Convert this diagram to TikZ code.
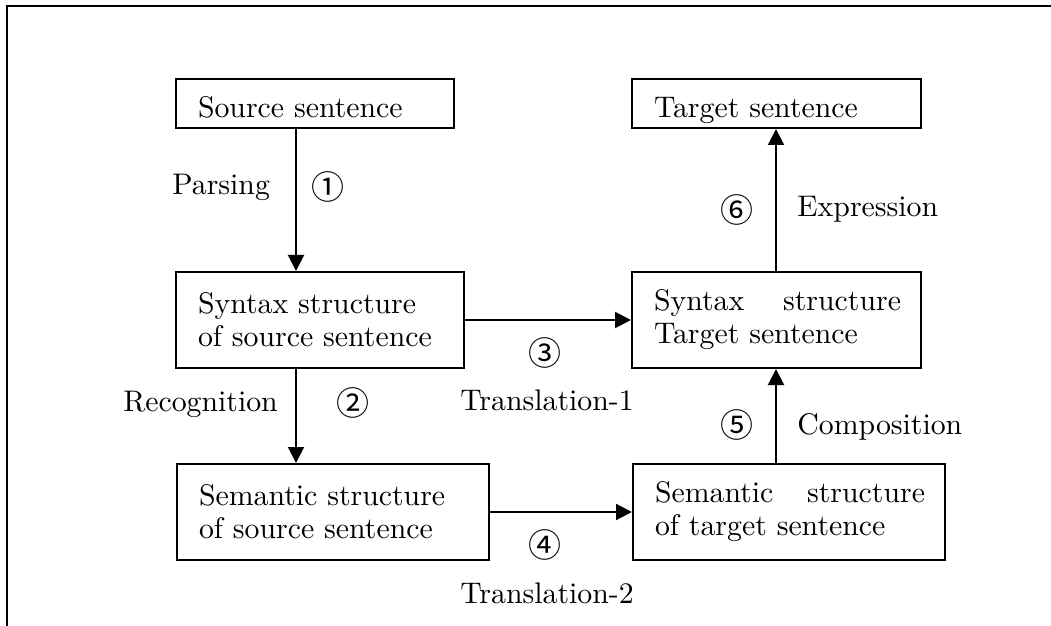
\documentclass[tikz,border=0pt]{standalone}
\usepackage{fontspec}
% one optical size throughout, so the text keeps its width at large sizes
\setmainfont{lmroman10-regular.otf}
\newfontfamily\circfont{Noto Sans CJK JP}
\usetikzlibrary{arrows.meta}

\begin{document}
\begin{tikzpicture}[x=0.5pt,y=-0.5pt,
  every node/.style={font=\fontsize{14.9}{16.5}\selectfont},
  box/.style={draw,line width=1pt,rectangle,inner sep=0pt,inner xsep=11pt,
    anchor=north west,align=left,text width=#1},
  onebox/.style={box=#1,minimum height=24.5pt,text height=19.5pt,text depth=5pt},
  twobox/.style={box=#1,minimum height=48pt},
  arr/.style={line width=1pt,-{Triangle[length=8pt,width=8pt]}},
  num/.style={font=\circfont\fontsize{16.5}{17}\selectfont,inner sep=0pt},
  lbl/.style={anchor=base west,inner sep=0pt},
]
\useasboundingbox (0,0) rectangle (1051,626);

% open frame: top and left edges only
\draw[line width=1.3pt] (7,626) -- (7,6) -- (1051,6);

% boxes: width = text width + 2 x 11pt
\node[onebox=117pt] (src) at (175,78) {Source sentence};
\node[onebox=122.5pt] (tgt) at (631,78) {Target sentence};
\node[twobox=122pt] (synS) at (175,271)
  {Syntax structure\\of source sentence};
\node[twobox=122.5pt] (synT) at (631,271)
  {\makebox[123.5pt][l]{Syntax\hfill structure}\\Target sentence};
\node[twobox=134pt] (semS) at (176,463)
  {Semantic structure\\of source sentence};
\node[twobox=134pt] (semT) at (632,463)
  {\makebox[135pt][l]{Semantic\hfill structure}\\of target sentence};

% vertical arrow lines
\coordinate (colL) at (296,0);
\coordinate (colR) at (776,0);

\draw[arr] (src.south -| colL) -- (synS.north -| colL);
\draw[arr] (synS.south -| colL) -- (semS.north -| colL);
\draw[arr] (synS.east) -- (synT.west);
\draw[arr] (semS.east) -- (semT.west);
\draw[arr] (semT.north -| colR) -- (synT.south -| colR);
\draw[arr] (synT.north -| colR) -- (tgt.south -| colR);

% step labels
\node[lbl] (lparse) at (172,195) {Parsing};
\node[num] (n1) at (328,187) {①};
\node[lbl] (lrecog) at (123,411) {Recognition};
\node[num] (n2) at (353,403) {②};
\node[num] (n3) at (545,353) {③};
\node[lbl] (ltr1) at (460,410) {Translation-1};
\node[num] (n4) at (545,545) {④};
\node[lbl] (ltr2) at (460,603) {Translation-2};
\node[num] (n5) at (737,425) {⑤};
\node[lbl] (lcomp) at (797,434) {Composition};
\node[num] (n6) at (737,210) {⑥};
\node[lbl] (lexpr) at (797,217) {Expression};
\end{tikzpicture}
\end{document}
